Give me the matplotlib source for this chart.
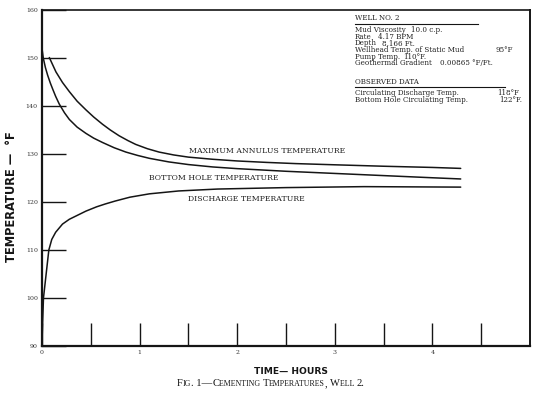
import matplotlib
matplotlib.use("Agg")
import matplotlib.pyplot as plt
import numpy as np

# curves (time in hours, temperature in deg F)
t_annulus = [0.075, 0.143, 0.21, 0.28, 0.36, 0.45, 0.53, 0.62, 0.70, 0.79, 0.88, 0.96,
             1.08, 1.2, 1.35, 1.5, 1.75, 2.0, 2.3, 2.6, 3.0, 3.5, 4.0, 4.29]
T_annulus = [150.1, 147.1, 144.9, 143.0, 141.0, 139.2, 137.7, 136.2, 135.0, 133.8, 132.8, 132.0,
             131.1, 130.4, 129.8, 129.35, 128.9, 128.55, 128.25, 128.0, 127.75, 127.45, 127.2, 127.0]

t_bottom = [0.0, 0.013, 0.035, 0.058, 0.085, 0.11, 0.14, 0.177, 0.23, 0.28, 0.36, 0.45, 0.53,
            0.62, 0.74, 0.86, 0.98, 1.1, 1.3, 1.5, 1.75, 2.0, 2.5, 3.0, 3.5, 4.0, 4.29]
T_bottom = [152.0, 150.0, 148.0, 146.4, 144.8, 143.5, 142.0, 140.4, 138.6, 137.2, 135.6, 134.3, 133.3,
            132.4, 131.3, 130.4, 129.7, 129.1, 128.35, 127.8, 127.3, 126.95, 126.4, 125.95, 125.5, 125.05, 124.8]

t_discharge = [0.0, 0.015, 0.07, 0.1, 0.14, 0.21, 0.28, 0.35, 0.45, 0.56, 0.65, 0.75, 0.9,
               1.1, 1.4, 1.8, 2.5, 3.3, 4.29]
T_discharge = [91.0, 100.0, 110.0, 112.2, 113.7, 115.4, 116.4, 117.1, 118.1, 119.0, 119.6, 120.2, 121.0,
               121.7, 122.3, 122.7, 123.0, 123.2, 123.1]

curve_labels = ["MAXIMUM ANNULUS TEMPERATURE", "BOTTOM HOLE TEMPERATURE", "DISCHARGE TEMPERATURE"]

y_ticks = [90, 100, 110, 120, 130, 140, 150, 160]
x_ticks = [0, 1, 2, 3, 4]
x_half_ticks = [0.5, 1.5, 2.5, 3.5, 4.5]

well_title = "WELL NO. 2"
well_rows = [("Mud Viscosity", "10.0 c.p."),
             ("Rate", "4.17 BPM"),
             ("Depth", "8,166 Ft."),
             ("Wellhead Temp. of Static Mud", "95°F"),
             ("Pump Temp.", "110°F."),
             ("Geothermal Gradient", "0.00865 °F/Ft.")]
obs_title = "OBSERVED DATA"
obs_rows = [("Circulating Discharge Temp.", "118°F"),
            ("Bottom Hole Circulating Temp.", "122°F.")]

INK = "#151515"
SERIF = ["DejaVu Serif"]

fig = plt.figure(figsize=(5.54, 3.94), dpi=100)
ax = fig.add_axes([42 / 554, 48 / 394, 488 / 554, 336 / 394])

for t, T in [(t_annulus, T_annulus), (t_bottom, T_bottom), (t_discharge, T_discharge)]:
    ax.plot(t, T, color=INK, lw=1.1, solid_capstyle="round", solid_joinstyle="round")

ax.set_xlim(0, 5)
ax.set_ylim(90, 160)

# inward stubs like the original drafting
ax.set_yticks(y_ticks)
ax.set_yticklabels([str(v) for v in y_ticks])
ax.set_xticks(x_ticks)
ax.set_xticklabels([str(v) for v in x_ticks])
ax.set_xticks(x_half_ticks, minor=True)
ax.tick_params(axis="y", direction="in", length=17.5, width=1.0, color=INK, pad=3,
               labelsize=4.5, labelcolor="#333333")
ax.tick_params(axis="x", which="both", direction="in", length=16.5, width=1.0, color=INK,
               pad=3, labelsize=4.5, labelcolor="#333333")
for lab in ax.get_xticklabels() + ax.get_yticklabels():
    lab.set_family(SERIF)

for side, lw in [("left", 1.6), ("bottom", 1.6), ("top", 1.2), ("right", 1.4)]:
    ax.spines[side].set_linewidth(lw)
    ax.spines[side].set_color(INK)

# curve captions
lab_kw = dict(fontsize=5.6, family=SERIF, color="#222222", va="center")
ax.text(1.51, 130.6, curve_labels[0], ha="left", **lab_kw)
ax.text(1.10, 125.0, curve_labels[1], ha="left", **lab_kw)
ax.text(1.50, 120.6, curve_labels[2], ha="left", **lab_kw)

# well data block (top right)
info_kw = dict(fontsize=5.1, family=SERIF, color="#222222", va="center", transform=ax.transAxes)
x0 = (355 - 42) / 488
ax.text(x0, 0.976, well_title, ha="left", **info_kw)
ax.plot([x0, 0.893], [0.959, 0.959], color=INK, lw=0.8, transform=ax.transAxes)
val_x = [411, 378, 382, 495, 403, 440]
row_y = [0.941, 0.921, 0.901, 0.881, 0.861, 0.841]
for (name, val), vx, yy in zip(well_rows, val_x, row_y):
    ax.text(x0, yy, name, ha="left", **info_kw)
    ax.text((vx - 42) / 488, yy, val, ha="left", **info_kw)

ax.text(x0, 0.787, obs_title, ha="left", **info_kw)
ax.plot([x0, 0.949], [0.772, 0.772], color=INK, lw=0.8, transform=ax.transAxes)
for (name, val), vx, yy in zip(obs_rows, [497, 499], [0.752, 0.731]):
    ax.text(x0, yy, name, ha="left", **info_kw)
    ax.text((vx - 42) / 488, yy, val, ha="left", **info_kw)

# axis titles
fig.text(12 / 554, 1 - 197 / 394, "TEMPERATURE —  °F", rotation=90, ha="center", va="center",
         fontsize=8.3, fontweight="bold", family="DejaVu Sans", color=INK)
fig.text(291 / 554, 1 - 371 / 394, "TIME— HOURS", ha="center", va="center",
         fontsize=6.6, fontweight="bold", family="DejaVu Sans", color=INK)

# figure caption, faked small caps: big first letters, small rest
caption = [("F", 7.6), ("IG", 5.7), (". 1—", 7.6), ("C", 7.6), ("EMENTING ", 5.7),
           ("T", 7.6), ("EMPERATURES", 5.7), (", ", 7.6), ("W", 7.6), ("ELL ", 5.7), ("2.", 7.6)]
base_y = 1 - 386 / 394
fig.canvas.draw()
r = fig.canvas.get_renderer()
x = 177
for piece, size in caption:
    tx = fig.text(x / fig.bbox.width, base_y, piece, ha="left", va="baseline",
                  fontsize=size, family=["Liberation Serif", "DejaVu Serif"], color=INK)
    x = tx.get_window_extent(r).x1

fig.savefig("out.png", dpi=100, facecolor="white")
